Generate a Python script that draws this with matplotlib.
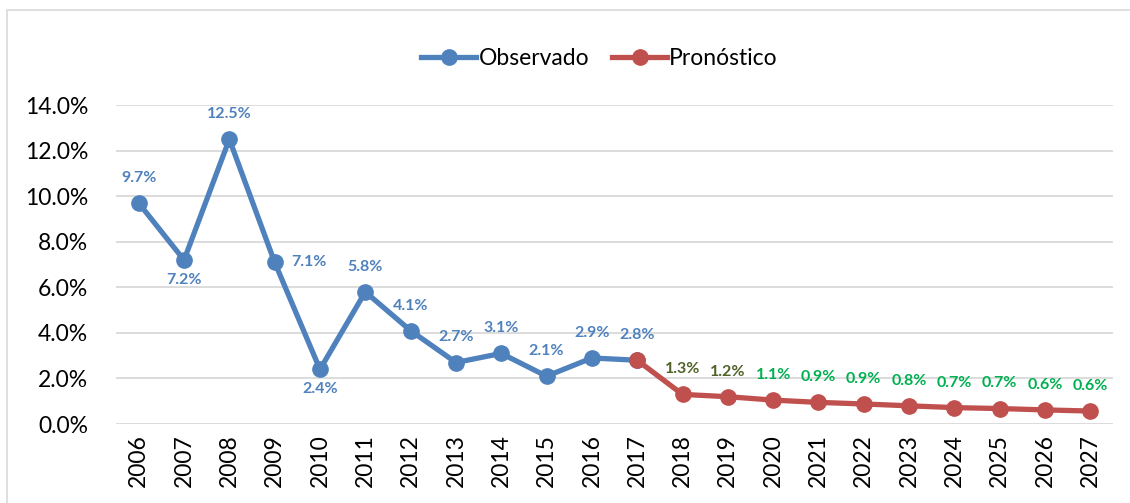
import matplotlib
matplotlib.use("Agg")
import matplotlib.pyplot as plt
from matplotlib.patches import Rectangle

plt.rcParams['font.family'] = ['Lato', 'DejaVu Sans']

years = [str(y) for y in range(2006, 2028)]
observado = [9.7, 7.2, 12.5, 7.1, 2.4, 5.8, 4.1, 2.7, 3.1, 2.1, 2.9, 2.8]
pronostico = [2.8, 1.3, 1.2, 1.05, 0.95, 0.88, 0.8, 0.72, 0.68, 0.62, 0.57]
pron_labels = ["1.3%", "1.2%", "1.1%", "0.9%", "0.9%", "0.8%", "0.7%", "0.7%", "0.6%", "0.6%"]
obs_labels = ["9.7%", "7.2%", "12.5%", "7.1%", "2.4%", "5.8%", "4.1%", "2.7%", "3.1%", "2.1%", "2.9%", "2.8%"]
ytick_vals = [0, 2, 4, 6, 8, 10, 12, 14]

blue = "#4F81BD"
red = "#C0504D"
olive = "#4F6228"
green = "#00B050"

fig = plt.figure(figsize=(11.3, 5.03), dpi=100)
ax = fig.add_axes([0.1027, 0.157, 0.8823, 0.634])

x_obs = list(range(len(observado)))
x_pro = list(range(len(observado) - 1, len(years)))

ax.plot(x_obs, observado, color=blue, lw=3.8, marker='o', ms=11, label="Observado", zorder=3)
ax.plot(x_pro, pronostico, color=red, lw=3.8, marker='o', ms=11, label="Pronóstico", zorder=4)

pos = ['above', 'below', 'above', 'right', 'below', 'above', 'above', 'above', 'above', 'above', 'above', 'above']
for i, (v, lab, p) in enumerate(zip(observado, obs_labels, pos)):
    if p == 'above':
        off, ha, va = (0, 13), 'center', 'bottom'
    elif p == 'below':
        off, ha, va = (0, -9), 'center', 'top'
    else:
        off, ha, va = (12, 0), 'left', 'center'
    ax.annotate(lab, (i, v), xytext=off, textcoords='offset points', ha=ha, va=va,
                color=blue, fontsize=11.5, fontweight='bold')

for j, (v, lab) in enumerate(zip(pronostico[1:], pron_labels)):
    i = x_pro[j + 1]
    c = olive if j < 2 else green
    ax.annotate(lab, (i, v), xytext=(0, 13), textcoords='offset points', ha='center', va='bottom',
                color=c, fontsize=11.5, fontweight='bold')

ax.set_xlim(-0.5, len(years) - 0.5)
ax.set_ylim(0, 14)
ax.set_yticks(ytick_vals)
ax.set_yticklabels([f"{v:.1f}%" for v in ytick_vals], fontsize=16.5)
ax.set_xticks(range(len(years)))
ax.set_xticklabels(years, rotation=90, fontsize=16.5)
ax.tick_params(length=0, pad=7)
ax.tick_params(axis='y', pad=20)
ax.grid(axis='y', color='#D9D9D9', lw=1.3)
ax.set_axisbelow(True)
for s in ax.spines.values():
    s.set_visible(False)

ax.legend(loc='lower center', bbox_to_anchor=(0.485, 1.05), ncol=2, frameon=False,
          fontsize=16.5, handlelength=2.4, handletextpad=0.1, columnspacing=1.0)

fig.patches.append(Rectangle((7 / 1130, -0.05), 1.2, 1 - 10 / 503 + 0.05, transform=fig.transFigure,
                             fill=False, edgecolor='#D9D9D9', lw=1.2))

fig.savefig("out.png", dpi=100)
